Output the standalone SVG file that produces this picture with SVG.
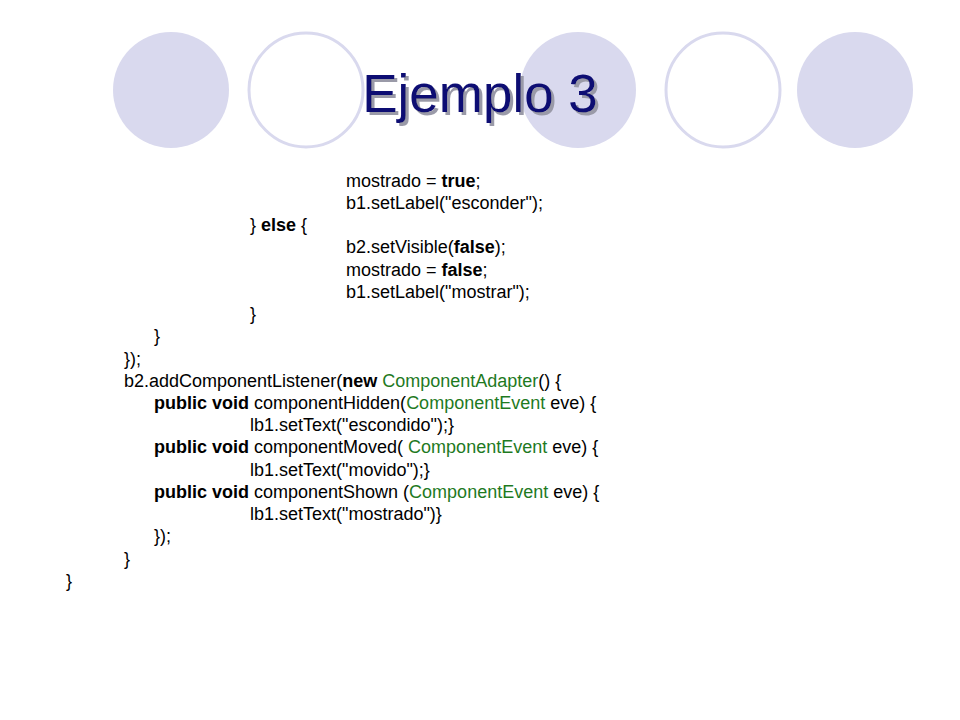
<svg xmlns="http://www.w3.org/2000/svg" width="960" height="720" viewBox="0 0 960 720">
<defs>
<filter id="sh" x="-10%" y="-20%" width="130%" height="150%">
<feDropShadow dx="3" dy="3" stdDeviation="0.5" flood-color="#9a9aa8"/>
</filter>
</defs>
<style>
.f{fill:#d9d9ee}.o{fill:#fff;stroke:#d9d9ee;stroke-width:3}
text{font-family:"Liberation Sans",Arial,sans-serif;font-size:18px;fill:#000}
.b{font-weight:bold}.g{fill:#1f7a1f}
.t{font-size:53px;fill:#0d0d73}
</style>
<rect width="960" height="720" fill="#fff"/>
<g id="circles">
<circle class="f" cx="171" cy="90" r="58"/>
<circle class="o" cx="306" cy="90" r="57"/>
<circle class="f" cx="578" cy="90" r="58"/>
<circle class="o" cx="723" cy="90" r="57"/>
<circle class="f" cx="855" cy="90" r="58"/>
</g>
<g id="title">
<text class="t" x="480" y="112" text-anchor="middle" filter="url(#sh)">Ejemplo 3</text>
</g>
<g id="code">
<text x="346" y="187">mostrado = <tspan class="b">true</tspan>;</text>
<text x="346" y="209">b1.setLabel("esconder");</text>
<text x="250" y="231">} <tspan class="b">else</tspan> {</text>
<text x="346" y="253">b2.setVisible(<tspan class="b">false</tspan>);</text>
<text x="346" y="276">mostrado = <tspan class="b">false</tspan>;</text>
<text x="346" y="298">b1.setLabel("mostrar");</text>
<text x="250" y="320">}</text>
<text x="154" y="342">}</text>
<text x="124" y="365">});</text>
<text x="124" y="387">b2.addComponentListener(<tspan class="b">new</tspan> <tspan class="g">ComponentAdapter</tspan>() {</text>
<text x="154" y="409"><tspan class="b">public void</tspan> componentHidden(<tspan class="g">ComponentEvent</tspan> eve) {</text>
<text x="250" y="431">lb1.setText("escondido");}</text>
<text x="154" y="453"><tspan class="b">public void</tspan> componentMoved( <tspan class="g">ComponentEvent</tspan> eve) {</text>
<text x="250" y="476">lb1.setText("movido");}</text>
<text x="154" y="498"><tspan class="b">public void</tspan> componentShown (<tspan class="g">ComponentEvent</tspan> eve) {</text>
<text x="250" y="520">lb1.setText("mostrado")}</text>
<text x="154" y="542">});</text>
<text x="124" y="565">}</text>
<text x="66" y="587">}</text>
</g>
</svg>
